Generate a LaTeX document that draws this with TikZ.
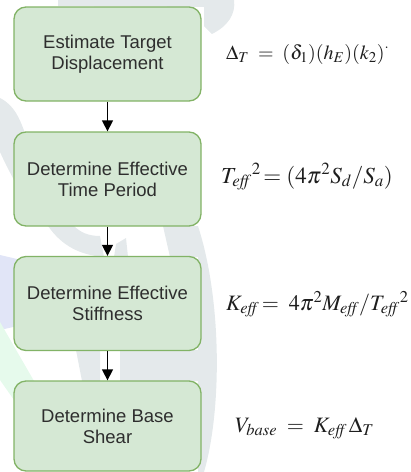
\documentclass[tikz,border=0pt]{standalone}
\usepackage{mathptmx}
\usepackage[no-math]{fontspec}
\setmainfont{Liberation Sans}
\usetikzlibrary{arrows.meta}
\DeclareMathSizes{20}{20}{15}{12}
\DeclareMathSizes{22}{22}{16.5}{13}
\DeclareMathSizes{23}{23}{17}{13}
\definecolor{boxfill}{HTML}{D5E8D4}
\definecolor{boxline}{HTML}{82B366}
\definecolor{textgray}{HTML}{2E2E2E}
\definecolor{wmgray}{HTML}{E4E9EB}
\definecolor{wmblue}{HTML}{E1E5F7}
\definecolor{wmgreen}{HTML}{E6FAEC}
\definecolor{eqcol}{HTML}{1E1E1E}
\begin{document}
\begin{tikzpicture}[x=1pt,y=-1pt,
  box/.style={draw=boxline, fill=boxfill, line width=1.3pt, rounded corners=12pt,
    minimum width=187pt, minimum height=94pt, align=center, inner sep=0pt,
    font=\fontsize{18.5}{21}\selectfont, text=textgray},
  eq/.style={anchor=base west, inner sep=0pt, text=eqcol},
  flow/.style={-{Triangle[length=11pt,width=11pt]}, line width=1.3pt, black}
]
\useasboundingbox (0,0) rectangle (411,472);
% faint watermark
\fill[wmgray] (58,0) -- (234,0) .. controls (236,14) and (228,26) .. (212,34) -- (204,26) -- (204,7) -- (58,6) -- cycle;
\fill[wmgray] (0,98) .. controls (28,112) and (22,150) .. (48,176) -- (14,180) .. controls (6,165) .. (0,152) -- cycle;
\fill[wmgray] (48,226) .. controls (62,246) and (80,255) .. (104,257) -- (100,236) .. controls (88,236) and (80,232) .. (74,226) -- cycle;
\fill[wmgray] (114,257) -- (128,257) -- (126,238) -- (116,244) -- cycle;
\fill[wmgray] (163,226) -- (198,226) .. controls (222,300) and (222,410) .. (204,472) -- (198,472) -- (198,350) -- (120,350) -- (120,381) -- (198,381) -- (198,257) -- (170,257) -- cycle;
\fill[wmgray] (76,350) -- (100,350) -- (100,381) -- (82,381) -- cycle;
\fill[wmblue] (0,255) -- (30,262) -- (22,325) -- (0,330) -- cycle;
\fill[wmgreen] (0,322) -- (45,400) -- (14,400) -- (0,380) -- cycle;
% boxes
\node[box] (b1) at (107.5,54) {Estimate Target\\Displacement};
\node[box] (b2) at (107.5,179) {Determine Effective\\Time Period};
\node[box] (b3) at (107.5,303.5) {Determine Effective\\Stiffness};
\node[box, minimum height=90pt] (b4) at (107.5,426) {Determine Base\\Shear};
\draw[flow] (b1) -- (b2);
\draw[flow] (b2) -- (b3);
\draw[flow] (b3) -- (b4);
% formulas
\node[eq, font=\fontsize{20}{24}\selectfont] (e1) at (226,59) {$\Delta_T \;=\; (\delta_1)(h_E)(k_2)^{\cdot}$};
\node[eq, font=\fontsize{23}{27}\selectfont] (e2) at (221,183) {$T_{\mathit{eff}}{}^{2}\!= (4\pi^2 S_d/S_a)$};
\node[eq, font=\fontsize{22}{26}\selectfont] (e3) at (226,310) {$K_{\mathit{eff}}\!=\; 4\pi^2 M_{\mathit{eff}}/T_{\mathit{eff}}{}^{2}$};
\node[eq, font=\fontsize{22}{26}\selectfont] (e4) at (235,432) {$V_{\mathit{base}} \;=\; K_{\mathit{eff}\,}\Delta_T$};
\end{tikzpicture}
\end{document}
